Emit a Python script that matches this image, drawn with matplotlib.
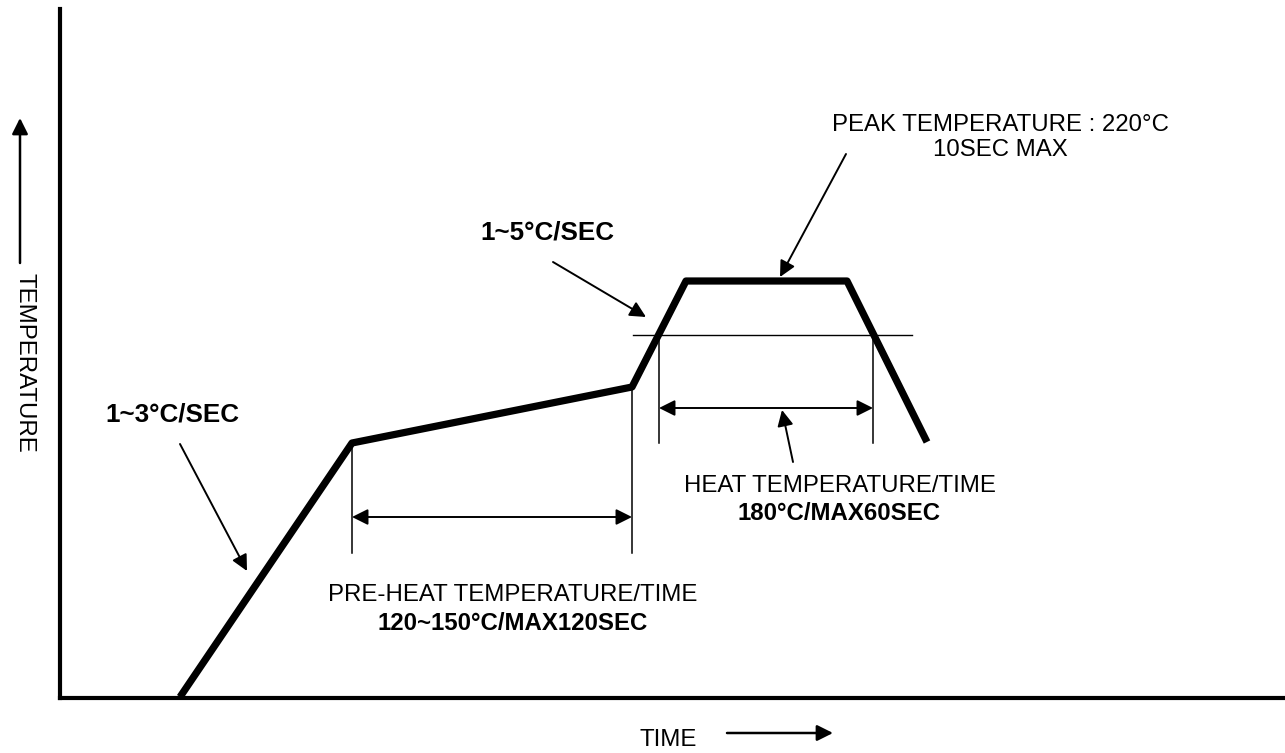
import matplotlib.pyplot as plt

plt.rcParams['font.family'] = ['Liberation Sans', 'DejaVu Sans']

# reflow profile (time, temperature) in drawing units
time = [180, 352, 632, 686, 847, 927]
temp = [1, 255, 311, 417, 417, 256]

# heat threshold line
thr_y = 363
thr_x = [633, 912]

# pre-heat window and heat window
pre_x = [352, 632]
pre_top = [255, 311]
heat_x = [659, 873]

fig = plt.figure(figsize=(12.85, 7.53), dpi=100)
ax = fig.add_axes([60 / 1285, 55 / 753, 1225 / 1285, 689 / 753])
ax.set_xlim(60, 1285)
ax.set_ylim(0, 689)
for s in ['top', 'right']:
    ax.spines[s].set_visible(False)
for s in ['left', 'bottom']:
    ax.spines[s].set_linewidth(3)
ax.set_xticks([])
ax.set_yticks([])

ax.plot(time, temp, color='black', lw=5.2, solid_capstyle='butt', clip_on=False)
ax.plot(thr_x, [thr_y, thr_y], color='black', lw=1.0)

# vertical marker lines
ax.plot([pre_x[0], pre_x[0]], [pre_top[0], 145], color='black', lw=1.1)
ax.plot([pre_x[1], pre_x[1]], [pre_top[1], 145], color='black', lw=1.1)
for x in heat_x:
    ax.plot([x, x], [thr_y, 255], color='black', lw=1.1)

dbl = dict(arrowstyle='<|-|>', color='black', lw=1.4, mutation_scale=24, shrinkA=0, shrinkB=0)
ax.annotate('', xy=(pre_x[1], 181), xytext=(pre_x[0], 181), arrowprops=dbl)
ax.annotate('', xy=(heat_x[1], 290), xytext=(heat_x[0], 290), arrowprops=dbl)

one = dict(arrowstyle='-|>', color='black', lw=1.4, mutation_scale=24, shrinkA=0, shrinkB=0)
ax.annotate('', xy=(247, 127), xytext=(180, 254), arrowprops=one)
ax.annotate('', xy=(646, 381), xytext=(553, 436), arrowprops=one)
ax.annotate('', xy=(780, 421), xytext=(846, 544), arrowprops=one)
ax.annotate('', xy=(782, 288), xytext=(793, 236), arrowprops=one)

fs = 17.3
bold = dict(fontsize=18.7, fontweight='bold', ha='center', va='center')
norm = dict(fontsize=fs, ha='center', va='center')
ax.text(172, 283, '1~3°C/SEC', **bold)
ax.text(547, 465, '1~5°C/SEC', **bold)
ax.text(1000, 573, 'PEAK TEMPERATURE : 220°C', **norm)
ax.text(1000, 548, '10SEC MAX', **norm)
ax.text(840, 212, 'HEAT TEMPERATURE/TIME', **norm)
ax.text(839, 184, '180°C/MAX60SEC', fontsize=fs, fontweight='bold', ha='center', va='center')
ax.text(513, 103, 'PRE-HEAT TEMPERATURE/TIME', **norm)
ax.text(513, 75, '120~150°C/MAX120SEC', fontsize=fs, fontweight='bold', ha='center', va='center')

# axis labels with arrows
ax.text(668, -42, 'TIME', clip_on=False, **norm)
ax.annotate('', xy=(833, -35), xytext=(727, -35), annotation_clip=False,
            arrowprops=dict(arrowstyle='-|>', color='black', lw=1.8, mutation_scale=24, shrinkA=0, shrinkB=0))
ax.text(24, 335, 'TEMPERATURE', rotation=-90, clip_on=False, **norm)
ax.annotate('', xy=(20, 580), xytext=(20, 435), annotation_clip=False,
            arrowprops=dict(arrowstyle='-|>', color='black', lw=1.8, mutation_scale=24, shrinkA=0, shrinkB=0))

fig.savefig('out.png', dpi=100)
